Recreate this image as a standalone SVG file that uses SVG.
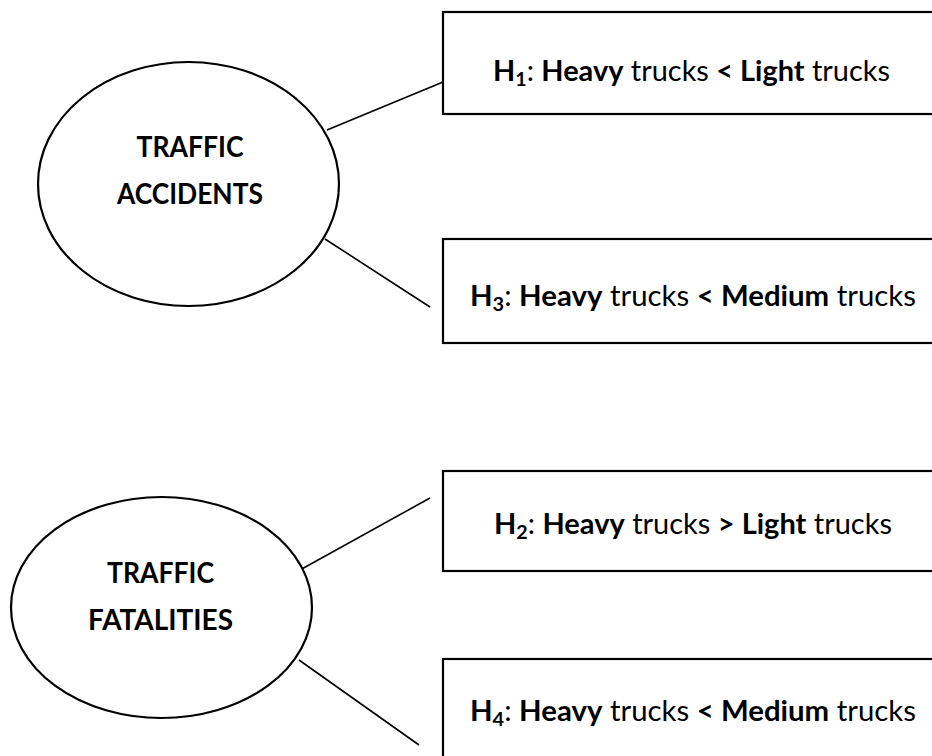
<svg xmlns="http://www.w3.org/2000/svg" width="932" height="756" viewBox="0 0 932 756">
<style>
.box{fill:#fff;stroke:#000;stroke-width:2.2}
.ell{fill:#fff;stroke:#000;stroke-width:2.2}
.con line{stroke:#000;stroke-width:1.6}
text{font-family:Lato,"Open Sans","Liberation Sans",sans-serif;fill:#000}
.t{font-size:28px}
.c{font-size:28px;font-weight:bold;text-anchor:middle}
.b{font-weight:bold}
.s{font-size:19px}
</style>
<rect width="932" height="756" fill="#fff"/>
<g id="connectors" class="con">
<line x1="327" y1="130" x2="443" y2="82"/>
<line x1="325" y1="239" x2="430" y2="307"/>
<line x1="300" y1="570" x2="430" y2="498"/>
<line x1="299" y1="660" x2="419" y2="745"/>
</g>
<g id="accidents">
<ellipse class="ell" cx="188.5" cy="184" rx="150.5" ry="122"/>
<text class="c" x="190" y="157" textLength="107" lengthAdjust="spacingAndGlyphs">TRAFFIC</text>
<text class="c" x="190" y="204" textLength="146" lengthAdjust="spacingAndGlyphs">ACCIDENTS</text>
</g>
<g id="fatalities">
<ellipse class="ell" cx="161.5" cy="607.5" rx="150.5" ry="110.5"/>
<text class="c" x="160.5" y="583" textLength="107" lengthAdjust="spacingAndGlyphs">TRAFFIC</text>
<text class="c" x="160.5" y="630" textLength="145" lengthAdjust="spacingAndGlyphs">FATALITIES</text>
</g>
<g id="h1">
<rect class="box" x="443" y="12" width="500" height="102"/>
<text class="t" x="493" y="81" textLength="397" lengthAdjust="spacingAndGlyphs"><tspan class="b">H</tspan><tspan class="s b" dy="5">1</tspan><tspan dy="-5">: </tspan><tspan class="b">Heavy</tspan> trucks <tspan class="b">&lt; Light</tspan> trucks</text>
</g>
<g id="h3">
<rect class="box" x="443" y="239" width="500" height="104"/>
<text class="t" x="470" y="306" textLength="446" lengthAdjust="spacingAndGlyphs"><tspan class="b">H</tspan><tspan class="s b" dy="5">3</tspan><tspan dy="-5">: </tspan><tspan class="b">Heavy</tspan> trucks <tspan class="b">&lt; Medium</tspan> trucks</text>
</g>
<g id="h2">
<rect class="box" x="443" y="471" width="500" height="100"/>
<text class="t" x="494" y="534" textLength="398" lengthAdjust="spacingAndGlyphs"><tspan class="b">H</tspan><tspan class="s b" dy="5">2</tspan><tspan dy="-5">: </tspan><tspan class="b">Heavy</tspan> trucks <tspan class="b">&gt; Light</tspan> trucks</text>
</g>
<g id="h4">
<rect class="box" x="443" y="659" width="500" height="120"/>
<text class="t" x="470" y="721" textLength="446" lengthAdjust="spacingAndGlyphs"><tspan class="b">H</tspan><tspan class="s b" dy="5">4</tspan><tspan dy="-5">: </tspan><tspan class="b">Heavy</tspan> trucks <tspan class="b">&lt; Medium</tspan> trucks</text>
</g>
</svg>
